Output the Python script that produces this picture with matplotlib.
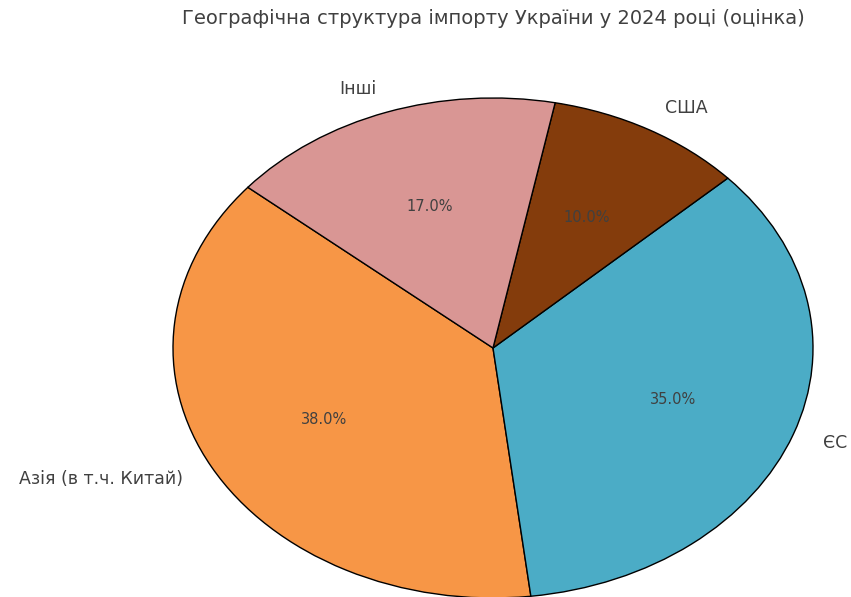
import matplotlib

matplotlib.use("Agg")
import matplotlib.pyplot as plt

regions = ["Азія (в т.ч. Китай)", "ЄС", "США", "Інші"]
shares = [38, 35, 10, 17]
colors = ["#f79646", "#4bacc6", "#843c0c", "#d99694"]
title = "Географічна структура імпорту України у 2024 році (оцінка)"

text_color = "#404040"

fig = plt.figure(figsize=(8.51, 5.97), dpi=100)
ax = fig.add_axes([173 / 851, -1 / 597, 640 / 851, 500 / 597])

wedges, labels, pcts = ax.pie(
    shares,
    labels=regions,
    colors=colors,
    autopct="%1.1f%%",
    startangle=140,
    labeldistance=1.1,
    pctdistance=0.6,
    wedgeprops={"edgecolor": "black", "linewidth": 1},
    textprops={"color": text_color, "fontsize": 12.5},
)
for t in pcts:
    t.set_fontsize(10.5)
ax.set_aspect("auto")
ax.set_xlim(-1, 1)
ax.set_ylim(-1, 1)

fig.text(493 / 851, 1 - 18 / 597, title, ha="center", va="center",
         fontsize=14, color=text_color)

fig.savefig("out.png", dpi=100)
